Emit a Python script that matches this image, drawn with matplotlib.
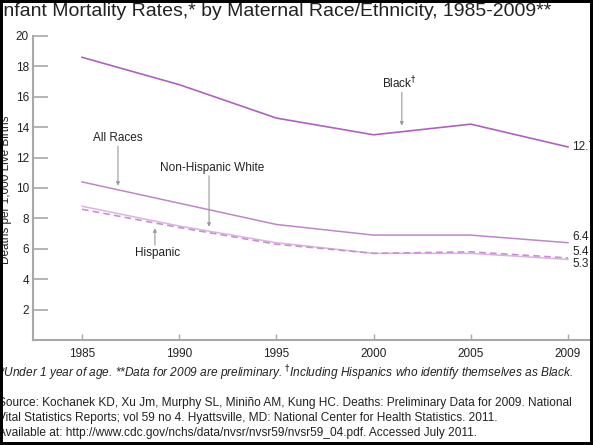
import matplotlib.pyplot as plt
from matplotlib.patches import Rectangle

plt.rcParams['font.family'] = ['Liberation Sans', 'DejaVu Sans']

YEARS = ['1985', '1990', '1995', '2000', '2005', '2009']

BLACK = [18.6, 16.8, 14.6, 13.5, 14.2, 12.7]
ALL_RACES = [10.4, 9.0, 7.6, 6.9, 6.9, 6.4]
NH_WHITE = [8.8, 7.5, 6.4, 5.7, 5.7, 5.3]
HISPANIC = [8.6, 7.4, 6.3, 5.7, 5.8, 5.4]

END_LABELS = ['12.7', '6.4', '5.4', '5.3']

TITLE = 'Infant Mortality Rates,* by Maternal Race/Ethnicity, 1985-2009**'
YLABEL = 'Deaths per 1,000 Live Births'
FOOTNOTE = ('*Under 1 year of age. **Data for 2009 are preliminary. '
            '$^{\\dagger}$Including Hispanics who identify themselves as Black.')
SOURCE = [
    'Source: Kochanek KD, Xu Jm, Murphy SL, Miniño AM, Kung HC. Deaths: Preliminary Data for 2009. National',
    'Vital Statistics Reports; vol 59 no 4. Hyattsville, MD: National Center for Health Statistics. 2011.',
    'Available at: http://www.cdc.gov/nchs/data/nvsr/nvsr59/nvsr59_04.pdf. Accessed July 2011.',
]

W, H = 593, 445
fig = plt.figure(figsize=(W / 100, H / 100), dpi=100)

# axes box in pixels: x 33..590, y 36..340
ax = fig.add_axes([33 / W, 1 - 340 / H, (590 - 33) / W, (340 - 36) / H])

x = list(range(len(YEARS)))
ax.plot(x, BLACK, color='#b060c0', lw=1.2)
ax.plot(x, ALL_RACES, color='#c184cc', lw=1.1)
ax.plot(x, NH_WHITE, color='#dcb2e2', lw=1.1)
ax.plot(x, HISPANIC, color='#c98fd4', lw=1.2, dashes=(4, 2.5))

# values at the right end
last = len(YEARS) - 1
series_end = [BLACK[-1], ALL_RACES[-1], HISPANIC[-1], NH_WHITE[-1]]
label_offsets = [0, 4, 4, -3]
for val, lab, dy in zip(series_end, END_LABELS, label_offsets):
    ax.annotate(lab, (last, val), xytext=(3, dy), textcoords='offset points',
                ha='left', va='center', fontsize=8.5, color='#222222',
                annotation_clip=False)

# series labels with arrows
arrow = dict(arrowstyle='-|>', color='#999999', lw=0.8, mutation_scale=5,
             shrinkA=0, shrinkB=0)
labels = [
    ('Black$^{\\dagger}$', 3.27, 16.9, 3.29, 16.3, 14.1),
    ('All Races', 0.365, 13.3, 0.37, 12.75, 10.15),
    ('Non-Hispanic White', 1.337, 11.3, 1.307, 10.8, 7.45),
    ('Hispanic', 0.78, 5.7, 0.75, 6.25, 7.35),
]
for text, tx, ty, axx, y0, y1 in labels:
    ax.text(tx, ty, text, ha='center', va='center', fontsize=8.5, color='#222222')
    ax.annotate('', xy=(axx, y1), xytext=(axx, y0), arrowprops=arrow)

ax.set_xlim(-0.504, 5.226)
ax.set_ylim(0, 20)
ax.set_xticks(x)
ax.set_xticklabels(YEARS)
ax.set_yticks(range(2, 21, 2))

for s in ['top', 'right']:
    ax.spines[s].set_visible(False)
for s in ['left', 'bottom']:
    ax.spines[s].set_color('#a8a8a8')
    ax.spines[s].set_linewidth(1.5)

ax.tick_params(axis='y', direction='in', length=11, width=1.2, color='#a8a8a8',
               labelsize=8.5, labelcolor='#222222', pad=3)
ax.tick_params(axis='x', direction='in', length=4.5, width=1.0, color='#a8a8a8',
               labelsize=8.5, labelcolor='#222222', pad=6)

fig.text(6 / W, 1 - 190 / H, YLABEL, rotation=90, ha='center', va='center',
         fontsize=8.5, color='#222222')

fig.text(-2 / W, 1 - 12 / H, TITLE, ha='left', va='center', fontsize=14,
         color='#222222')

fig.text(-1 / W, 1 - 373 / H, FOOTNOTE, ha='left', va='center', fontsize=8.6,
         style='italic', color='#222222')
for i, line in enumerate(SOURCE):
    fig.text(-2 / W, 1 - (403 + 15 * i) / H, line, ha='left', va='center',
             fontsize=8.6, color='#222222')

fig.patches.append(Rectangle((0, 0), 1, 1, transform=fig.transFigure,
                             fill=False, edgecolor='black', lw=4.3, zorder=10))

fig.savefig('out.png', dpi=100)
